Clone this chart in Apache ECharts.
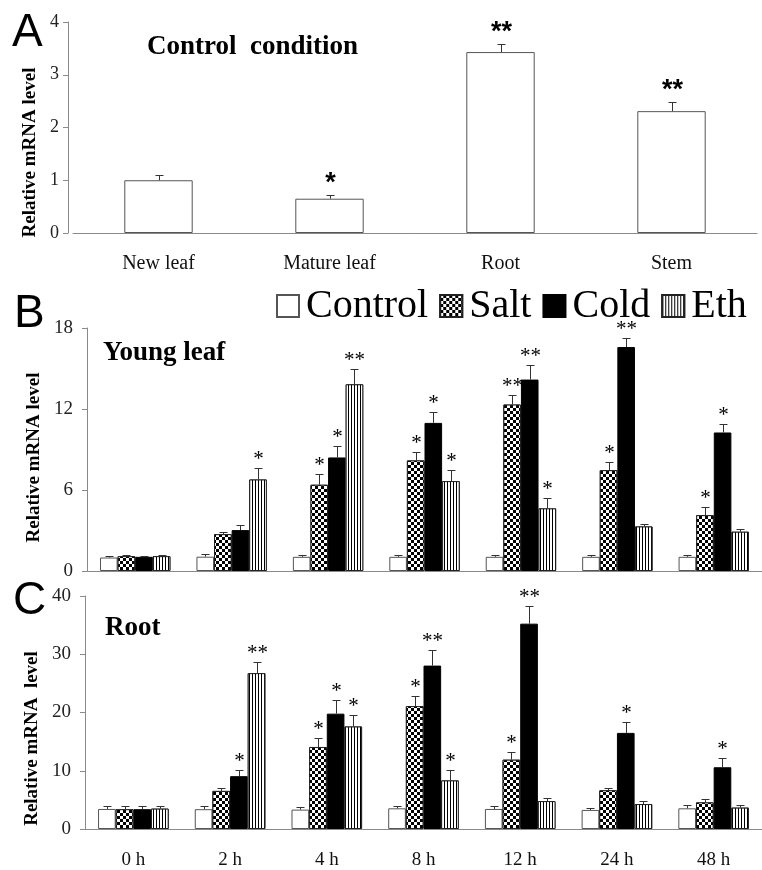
<!DOCTYPE html>
<html>
<head>
<meta charset="utf-8">
<script src="https://cdn.jsdelivr.net/npm/echarts@6/dist/echarts.min.js"></script>
<style>html,body{margin:0;padding:0;background:#fff;}#c{width:762px;height:870px;}</style>
</head>
<body>
<div id="c"></div>
<script>
// ---------- DATA ----------
const tissues = ['New leaf', 'Mature leaf', 'Root', 'Stem'];
const aValues = [1.00, 0.65, 3.43, 2.31];
const aSD = [0.10, 0.07, 0.15, 0.17];
const aStars = ['', '*', '**', '**'];

const times = ['0 h', '2 h', '4 h', '8 h', '12 h', '24 h', '48 h'];
const conditions = ['Control', 'Salt', 'Cold', 'Eth'];

// B: Young leaf
const bControl = [1.00, 1.06, 1.05, 1.05, 1.05, 1.05, 1.05];
const bControlSD = [0.08, 0.20, 0.15, 0.15, 0.15, 0.15, 0.15];
const bSalt = [1.10, 2.73, 6.39, 8.19, 12.33, 7.47, 4.14];
const bSaltSD = [0.06, 0.13, 0.76, 0.59, 0.74, 0.59, 0.62];
const bCold = [1.05, 3.03, 8.41, 10.97, 14.18, 16.59, 10.26];
const bColdSD = [0.08, 0.35, 0.84, 0.82, 1.11, 0.67, 0.66];
const bEth = [1.10, 6.78, 13.83, 6.66, 4.64, 3.30, 2.91];
const bEthSD = [0.05, 0.86, 1.11, 0.79, 0.74, 0.15, 0.17];
const bControlStars = ['', '', '', '', '', '', ''];
const bSaltStars = ['', '', '*', '*', '**', '*', '*'];
const bColdStars = ['', '', '*', '*', '**', '**', '*'];
const bEthStars = ['', '*', '**', '*', '*', '', ''];

// C: Root
const cControl = [3.44, 3.40, 3.33, 3.55, 3.44, 3.27, 3.55];
const cControlSD = [0.50, 0.50, 0.45, 0.40, 0.45, 0.35, 0.50];
const cSalt = [3.40, 6.54, 14.08, 21.10, 11.90, 6.65, 4.57];
const cSaltSD = [0.50, 0.45, 1.60, 1.80, 1.30, 0.45, 0.50];
const cCold = [3.40, 9.07, 19.80, 28.05, 35.25, 16.50, 10.60];
const cColdSD = [0.50, 1.10, 2.30, 2.65, 3.05, 1.90, 1.60];
const cEth = [3.50, 26.76, 17.60, 8.34, 4.79, 4.28, 3.67];
const cEthSD = [0.50, 1.85, 1.90, 1.85, 0.50, 0.50, 0.45];
const cControlStars = ['', '', '', '', '', '', ''];
const cSaltStars = ['', '', '*', '*', '*', '', ''];
const cColdStars = ['', '*', '*', '**', '**', '*', '*'];
const cEthStars = ['', '**', '*', '*', '', '', ''];

const aTicks = {min: 0, max: 4, interval: 1};
const bTicks = {min: 0, max: 18, interval: 6};
const cTicks = {min: 0, max: 40, interval: 10};

// ---------- STYLES ----------
const SERIF = 'Liberation Serif';
const SANS = 'Liberation Sans';
const AXIS_GRAY = '#8a8a8a';

const styles = {
  Control: {color: '#ffffff', borderColor: '#555', borderWidth: 1},
  Salt: {color: '#ffffff', borderColor: '#222', borderWidth: 1,
    decal: {symbol: 'rect', symbolSize: 1, color: '#000', backgroundColor: '#fff',
      dashArrayX: [[3, 3], [0, 3, 3, 0]], dashArrayY: [3, 0], rotation: 0}},
  Cold: {color: '#000000', borderColor: '#000', borderWidth: 1},
  Eth: {color: '#ffffff', borderColor: '#222', borderWidth: 1,
    decal: {symbol: 'rect', symbolSize: 1, color: '#000', backgroundColor: '#fff',
      dashArrayX: [1, 2], dashArrayY: [4, 0], rotation: 0}}
};

function barSeries(name, data, gi, gap) {
  return {
    type: 'bar', name: name, data: data,
    xAxisIndex: gi, yAxisIndex: gi,
    barGap: '0%', barCategoryGap: (gap * 100) + '%',
    itemStyle: styles[name],
    emphasis: {disabled: true},
    animation: false, z: 2
  };
}

function errSeries(k, n, vals, sds, stars, gi, gap, starFont, starOff) {
  return {
    type: 'custom', name: 'err' + gi + '_' + k,
    xAxisIndex: gi, yAxisIndex: gi,
    data: vals.map((v, i) => [i, v, v + sds[i]]),
    encode: {x: 0, y: [1, 2]},
    animation: false, z: 5, silent: true,
    renderItem: function (params, api) {
      const ci = api.value(0), v = api.value(1), t = api.value(2);
      const band = api.size([1, 0])[0];
      const bw = band * (1 - gap) / n;
      const p0 = api.coord([ci, v]);
      const p1 = api.coord([ci, t]);
      const x = Math.round(p0[0] + (k - (n - 1) / 2) * bw) + 0.5;
      const yt = Math.round(p1[1]) + 0.5;
      const ch = [
        {type: 'line', shape: {x1: x, y1: p0[1], x2: x, y2: yt}, style: {stroke: '#333', lineWidth: 1}},
        {type: 'line', shape: {x1: x - 4, y1: yt, x2: x + 4, y2: yt}, style: {stroke: '#333', lineWidth: 1}}
      ];
      const s = stars[params.dataIndex];
      if (s) {
        ch.push({type: 'text', style: {text: s, x: x, y: yt - starOff, align: 'center',
          verticalAlign: 'middle', font: starFont, fill: '#000'}});
      }
      return {type: 'group', children: ch};
    }
  };
}

function yAxisCfg(gi, ticks, name, gap, shift, labelMargin, labelSize, offset) {
  return {
    type: 'value', gridIndex: gi, min: ticks.min, max: ticks.max, interval: ticks.interval,
    offset: offset,
    name: name, nameLocation: 'middle', nameGap: gap,
    nameTextStyle: {fontFamily: SERIF, fontWeight: 'bold', fontSize: 19, color: '#000',
      padding: [0, shift * 2, 0, 0]},
    axisLine: {show: true, lineStyle: {color: AXIS_GRAY}},
    axisTick: {show: true, length: 5, lineStyle: {color: AXIS_GRAY}},
    splitLine: {show: false},
    axisLabel: {fontFamily: SERIF, fontSize: labelSize, color: '#222', margin: labelMargin}
  };
}

function xAxisCfg(gi, cats, showLabels, labelSize, margin) {
  return {
    type: 'category', gridIndex: gi, data: cats,
    axisLine: {show: true, lineStyle: {color: AXIS_GRAY}},
    axisTick: {show: false},
    axisLabel: {show: showLabels, fontFamily: SERIF, fontSize: labelSize, color: '#111', margin: margin, interval: 0}
  };
}

const GAP_A = 0.60, GAP_BC = 0.27;
const starA = 'bold 27px ' + SANS;
const starBC = '21px ' + SERIF;

const series = [];
series.push(barSeries('Control', aValues, 0, GAP_A));
series.push(errSeries(0, 1, aValues, aSD, aStars, 0, GAP_A, starA, 12));

const bSets = [[bControl, bControlSD, bControlStars], [bSalt, bSaltSD, bSaltStars],
  [bCold, bColdSD, bColdStars], [bEth, bEthSD, bEthStars]];
const cSets = [[cControl, cControlSD, cControlStars], [cSalt, cSaltSD, cSaltStars],
  [cCold, cColdSD, cColdStars], [cEth, cEthSD, cEthStars]];
bSets.forEach((s, k) => series.push(barSeries(conditions[k], s[0], 1, GAP_BC)));
cSets.forEach((s, k) => series.push(barSeries(conditions[k], s[0], 2, GAP_BC)));
bSets.forEach((s, k) => series.push(errSeries(k, 4, s[0], s[1], s[2], 1, GAP_BC, starBC, 9)));
cSets.forEach((s, k) => series.push(errSeries(k, 4, s[0], s[1], s[2], 2, GAP_BC, starBC, 9)));

const option = {
  backgroundColor: '#fff',
  animation: false,
  grid: [
    {left: 73, top: 22, width: 684, height: 211},
    {left: 87, top: 328, width: 676, height: 243},
    {left: 85, top: 596, width: 680, height: 237}
  ],
  xAxis: [
    xAxisCfg(0, tissues, true, 20, 21),
    xAxisCfg(1, times, false, 19, 20),
    xAxisCfg(2, times, true, 19, 22)
  ],
  yAxis: [
    yAxisCfg(0, aTicks, 'Relative mRNA level', 24, 25, 9, 18, 5),
    yAxisCfg(1, bTicks, 'Relative mRNA level', 42, 8, 14, 19, 0),
    yAxisCfg(2, cTicks, 'Relative mRNA  level', 41, 26, 14, 19, 0)
  ],
  legend: {
    data: conditions, left: 276, top: 286, padding: 0, icon: 'rect',
    itemWidth: 22, itemHeight: 22, itemGap: 11, selectedMode: false,
    textStyle: {fontFamily: SERIF, fontSize: 40, color: '#000', padding: [0, 0, 0, 2]}
  },
  graphic: [
    {type: 'text', left: 12, top: 10, style: {text: 'A', font: '46px ' + SANS, fill: '#000'}},
    {type: 'text', x: 147, y: 47, style: {text: 'Control  condition', font: 'bold 27px ' + SERIF, fill: '#000', verticalAlign: 'middle'}},
    {type: 'text', x: 14, y: 314, style: {text: 'B', font: '46px ' + SANS, fill: '#000', verticalAlign: 'middle'}},
    {type: 'text', x: 103, y: 353, style: {text: 'Young leaf', font: 'bold 27px ' + SERIF, fill: '#000', verticalAlign: 'middle'}},
    {type: 'text', x: 13, y: 601, style: {text: 'C', font: '46px ' + SANS, fill: '#000', verticalAlign: 'middle'}},
    {type: 'text', x: 105, y: 628, style: {text: 'Root', font: 'bold 27px ' + SERIF, fill: '#000', verticalAlign: 'middle'}}
  ],
  series: series
};

const chart = echarts.init(document.getElementById('c'), null, {renderer: 'canvas'});
chart.setOption(option);
</script>
</body>
</html>
